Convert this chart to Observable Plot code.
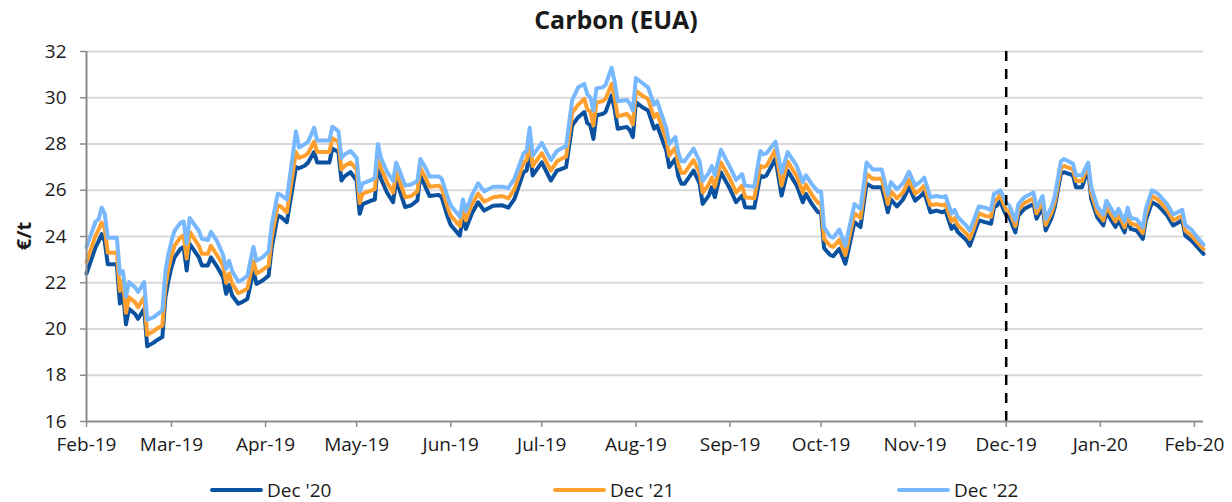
<!DOCTYPE html>
<html>
<head>
<meta charset="utf-8">
<script src="https://cdn.jsdelivr.net/npm/d3@7"></script>
<script src="https://cdn.jsdelivr.net/npm/@observablehq/plot@0.6"></script>
<style>
  html, body { margin: 0; padding: 0; background: #fff; }
  #wrap { position: relative; width: 1232px; height: 502px; font-family: "Open Sans", sans-serif; color: #1a1a1a; }
  #chart { position: absolute; left: 0; top: 25px; }
  #title { position: absolute; left: 0; top: 0; width: 1232px; height: 40px; text-align: center; font-weight: 700; font-size: 25px; line-height: 38px; }
  #ylab { position: absolute; left: 23px; top: 236px; transform: translate(-50%, -50%) rotate(-90deg); font-weight: 700; font-size: 20px; white-space: nowrap; }
  .leg { position: absolute; top: 478px; height: 24px; display: flex; align-items: center; font-size: 19px; }
  .sw { width: 53px; height: 4px; margin-right: 4px; border-radius: 2px; }
</style>
</head>
<body>
<div id="wrap">
  <div id="chart"></div>
  <div id="title">Carbon (EUA)</div>
  <div id="ylab">€/t</div>
  <div id="legend"></div>
</div>
<script>
// ---- data ----
const seriesNames = ["Dec '20", "Dec '21", "Dec '22"];
const seriesColors = ["#0a52a0", "#ffa02e", "#78b8ff"];
const yTicks = [16, 18, 20, 22, 24, 26, 28, 30, 32];
const monthTicks = ["2019-02-01","2019-03-01","2019-04-01","2019-05-01","2019-06-01","2019-07-01","2019-08-01","2019-09-01","2019-10-01","2019-11-01","2019-12-01","2020-01-01","2020-02-01"];
const markerDate = "2019-12-01";
const xDomain = ["2019-02-01", "2020-02-04"];

const dates = [
  "2019-02-01","2019-02-04","2019-02-05","2019-02-06","2019-02-07","2019-02-08","2019-02-11","2019-02-12","2019-02-13","2019-02-14","2019-02-15","2019-02-17","2019-02-18","2019-02-20","2019-02-21","2019-02-23","2019-02-24","2019-02-26","2019-02-27","2019-02-28",
  "2019-03-01","2019-03-02","2019-03-04","2019-03-05","2019-03-06","2019-03-07","2019-03-10","2019-03-11","2019-03-13","2019-03-14","2019-03-16","2019-03-18","2019-03-19","2019-03-20","2019-03-21","2019-03-23","2019-03-24","2019-03-26","2019-03-27","2019-03-28","2019-03-29","2019-03-31",
  "2019-04-02","2019-04-03","2019-04-05","2019-04-06","2019-04-08","2019-04-11","2019-04-12","2019-04-14","2019-04-15","2019-04-17","2019-04-18","2019-04-22","2019-04-23","2019-04-25","2019-04-26","2019-04-27","2019-04-29",
  "2019-05-01","2019-05-02","2019-05-03","2019-05-06","2019-05-07","2019-05-08","2019-05-09","2019-05-11","2019-05-13","2019-05-14","2019-05-15","2019-05-17","2019-05-19","2019-05-21","2019-05-22","2019-05-24","2019-05-25","2019-05-28","2019-05-29","2019-05-31",
  "2019-06-01","2019-06-04","2019-06-05","2019-06-06","2019-06-08","2019-06-10","2019-06-12","2019-06-15","2019-06-18","2019-06-20","2019-06-22","2019-06-25","2019-06-26","2019-06-27","2019-06-28",
  "2019-07-01","2019-07-04","2019-07-06","2019-07-08","2019-07-09","2019-07-11","2019-07-13","2019-07-15","2019-07-16","2019-07-17","2019-07-18","2019-07-19","2019-07-21","2019-07-22","2019-07-24","2019-07-25","2019-07-26","2019-07-29","2019-07-30","2019-07-31",
  "2019-08-01","2019-08-03","2019-08-05","2019-08-07","2019-08-08","2019-08-09","2019-08-11","2019-08-12","2019-08-14","2019-08-15","2019-08-16","2019-08-17","2019-08-20","2019-08-22","2019-08-23","2019-08-25","2019-08-26","2019-08-27","2019-08-29",
  "2019-09-01","2019-09-03","2019-09-05","2019-09-06","2019-09-09","2019-09-11","2019-09-12","2019-09-13","2019-09-16","2019-09-18","2019-09-20","2019-09-23","2019-09-25","2019-09-26","2019-09-28","2019-09-30",
  "2019-10-01","2019-10-02","2019-10-04","2019-10-05","2019-10-07","2019-10-09","2019-10-10","2019-10-12","2019-10-14","2019-10-16","2019-10-18","2019-10-21","2019-10-22","2019-10-23","2019-10-24","2019-10-26","2019-10-28","2019-10-30",
  "2019-11-01","2019-11-03","2019-11-04","2019-11-06","2019-11-08","2019-11-10","2019-11-11","2019-11-13","2019-11-14","2019-11-15","2019-11-18","2019-11-19","2019-11-20","2019-11-22","2019-11-24","2019-11-26","2019-11-27","2019-11-28","2019-11-29","2019-11-30",
  "2019-12-01","2019-12-02","2019-12-04","2019-12-05","2019-12-07","2019-12-10","2019-12-11","2019-12-13","2019-12-14","2019-12-16","2019-12-17","2019-12-19","2019-12-20","2019-12-23","2019-12-24","2019-12-26","2019-12-28","2019-12-29","2019-12-31",
  "2020-01-02","2020-01-03","2020-01-06","2020-01-07","2020-01-09","2020-01-10","2020-01-11","2020-01-13","2020-01-15","2020-01-16","2020-01-18","2020-01-20","2020-01-21","2020-01-23","2020-01-25","2020-01-28","2020-01-29","2020-01-31",
  "2020-02-02","2020-02-04"
];

const dec20 = [
  22.40,23.54,23.80,24.10,23.80,22.80,22.80,21.10,21.60,20.20,20.87,20.65,20.44,20.87,19.25,19.40,19.50,19.65,21.37,22.10,
  22.67,23.10,23.47,23.55,22.53,23.68,23.10,22.75,22.75,23.10,22.70,22.24,21.52,21.90,21.45,21.09,21.15,21.30,21.90,22.53,21.95,22.10,
  22.31,23.50,24.90,24.85,24.62,27.00,26.95,27.07,27.20,27.65,27.20,27.20,27.80,27.65,26.42,26.60,26.78,
  26.42,24.98,25.40,25.56,25.60,27.21,26.50,25.90,25.48,26.42,26.05,25.27,25.35,25.56,26.64,26.05,25.75,25.80,25.70,24.84,
  24.50,24.04,24.83,24.33,25.00,25.48,25.12,25.33,25.35,25.25,25.63,26.78,26.85,27.72,26.64,
  27.21,26.42,26.85,26.95,27.00,28.80,29.16,29.38,28.90,28.80,28.22,29.23,29.30,29.38,30.10,29.50,28.66,28.74,28.60,28.30,
  29.81,29.60,29.45,28.66,28.80,28.44,27.72,27.00,27.36,26.60,26.28,26.28,26.85,26.28,25.41,25.77,26.13,25.70,26.78,
  26.06,25.48,25.77,25.27,25.24,26.64,26.57,26.64,27.36,25.77,26.85,26.20,25.48,25.84,25.40,25.05,
  25.05,23.50,23.20,23.15,23.47,22.82,23.40,24.62,24.41,26.28,26.13,26.13,25.60,25.05,25.60,25.30,25.60,26.13,
  25.55,25.77,25.92,25.05,25.12,25.05,25.12,24.33,24.48,24.20,23.83,23.60,23.97,24.70,24.62,24.55,25.27,25.34,25.56,25.20,
  24.91,24.83,24.18,24.90,25.20,25.41,24.77,25.27,24.26,24.83,25.27,26.71,26.78,26.64,26.13,26.13,26.93,25.63,24.83,
  24.48,25.05,24.41,24.70,24.18,24.77,24.33,24.26,23.90,24.70,25.48,25.34,25.20,24.91,24.48,24.70,24.04,23.83,
  23.54,23.25
];

const dec21 = [
  22.90,24.04,24.30,24.60,24.35,23.30,23.30,21.65,22.10,20.70,21.37,21.15,20.94,21.37,19.75,19.90,20.00,20.15,21.85,22.60,
  23.17,23.60,23.97,24.05,23.05,24.20,23.60,23.25,23.25,23.60,23.20,22.75,22.00,22.40,21.95,21.55,21.60,21.75,22.35,22.95,22.40,22.55,
  22.75,23.95,25.35,25.30,25.05,27.65,27.40,27.50,27.60,28.10,27.65,27.65,28.25,28.10,26.90,27.05,27.20,
  26.90,25.45,25.85,26.00,26.05,27.60,26.95,26.35,25.90,26.80,26.45,25.70,25.75,25.95,26.95,26.45,26.15,26.20,26.10,25.25,
  24.90,24.45,25.20,24.70,25.40,25.85,25.50,25.70,25.75,25.65,26.05,27.20,27.30,28.10,27.05,
  27.60,26.85,27.25,27.40,27.45,29.35,29.70,29.95,29.50,29.40,28.80,29.80,29.85,29.95,30.60,30.00,29.20,29.30,29.15,28.85,
  30.30,30.10,29.95,29.15,29.30,28.95,28.20,27.50,27.85,27.10,26.75,26.75,27.30,26.75,25.90,26.25,26.55,26.15,27.20,
  26.50,25.90,26.20,25.70,25.65,27.05,27.00,27.05,27.75,26.20,27.25,26.60,25.90,26.25,25.80,25.45,
  25.45,23.90,23.60,23.55,23.85,23.20,23.80,25.00,24.80,26.70,26.50,26.50,25.95,25.40,25.95,25.65,25.90,26.45,
  25.85,26.05,26.20,25.35,25.40,25.35,25.40,24.65,24.80,24.50,24.10,23.90,24.25,25.00,24.90,24.85,25.55,25.60,25.80,25.45,
  25.15,25.10,24.45,25.15,25.45,25.65,25.00,25.50,24.50,25.05,25.50,26.95,27.05,26.90,26.40,26.40,27.15,25.90,25.05,
  24.70,25.30,24.65,24.95,24.40,25.00,24.55,24.50,24.15,24.95,25.75,25.60,25.45,25.15,24.70,24.90,24.25,24.05,
  23.75,23.45
];

const dec22 = [
  23.55,24.65,24.75,25.25,25.00,23.95,23.95,22.40,22.50,21.40,22.03,21.80,21.60,22.03,20.40,20.50,20.60,20.80,22.50,23.25,
  23.80,24.25,24.60,24.65,23.70,24.80,24.25,23.90,23.85,24.20,23.80,23.20,22.60,22.95,22.50,22.05,22.10,22.30,22.95,23.55,22.95,23.10,
  23.35,24.50,25.85,25.80,25.60,28.55,27.85,28.00,28.10,28.70,28.15,28.15,28.75,28.55,27.40,27.55,27.70,
  27.40,25.95,26.30,26.45,26.55,28.00,27.40,26.80,26.40,27.20,26.90,26.20,26.25,26.40,27.35,26.90,26.60,26.60,26.50,25.70,
  25.35,24.85,25.60,25.10,25.80,26.30,25.95,26.15,26.15,26.10,26.50,27.60,27.70,28.70,27.50,
  28.05,27.30,27.70,27.85,27.90,29.90,30.45,30.60,30.15,30.00,29.45,30.40,30.45,30.55,31.30,30.70,29.85,29.90,29.75,29.45,
  30.85,30.65,30.45,29.70,29.85,29.45,28.70,28.00,28.30,27.60,27.25,27.25,27.80,27.25,26.40,26.75,27.05,26.65,27.75,
  27.00,26.45,26.70,26.20,26.15,27.70,27.55,27.60,28.10,26.75,27.65,27.05,26.35,26.65,26.25,25.95,
  25.95,24.40,24.00,23.95,24.30,23.60,24.20,25.40,25.20,27.20,26.90,26.90,26.35,25.80,26.35,26.05,26.30,26.80,
  26.20,26.40,26.55,25.70,25.75,25.70,25.75,25.00,25.15,24.85,24.45,24.25,24.60,25.30,25.25,25.15,25.85,25.90,26.00,25.75,
  25.45,25.35,24.70,25.40,25.70,25.90,25.25,25.75,24.75,25.30,25.75,27.25,27.35,27.15,26.65,26.65,27.20,26.15,25.30,
  24.95,25.55,24.90,25.20,24.65,25.25,24.80,24.75,24.40,25.20,26.00,25.85,25.70,25.40,24.95,25.15,24.50,24.30,
  23.95,23.65
];

// ---- build tables ----
const allSeries = [dec20, dec21, dec22];
const rows = [];
allSeries.forEach((vals, k) => {
  vals.forEach((v, i) => rows.push({date: new Date(dates[i]), value: v, series: seriesNames[k]}));
});

const chart = Plot.plot({
  width: 1232,
  height: 445,
  marginTop: 26,
  marginBottom: 49,
  marginLeft: 86,
  marginRight: 29,
  style: {fontFamily: "'Open Sans', sans-serif", fontSize: "19px", color: "#1a1a1a", background: "transparent", overflow: "visible"},
  x: {type: "utc", domain: xDomain.map(d => new Date(d)), label: null},
  y: {domain: [16, 32], label: null},
  color: {domain: seriesNames, range: seriesColors},
  marks: [
    Plot.gridY(yTicks.filter(t => t > 16), {stroke: "#d9d9d9", strokeOpacity: 1, strokeWidth: 2}),
    Plot.lineY(rows, {x: "date", y: "value", stroke: "series", z: "series", strokeWidth: 4, strokeLinejoin: "round", strokeLinecap: "round"}),
    Plot.ruleX([new Date(markerDate)], {y1: 16, y2: 32, stroke: "#000", strokeWidth: 2.5, strokeDasharray: "10,8"}),
    Plot.ruleY([16], {stroke: "#8c8c8c", strokeWidth: 2}),
    Plot.ruleX([new Date(xDomain[0])], {y1: 16, y2: 32, stroke: "#8c8c8c", strokeWidth: 2}),
    Plot.axisY({ticks: yTicks, tickSize: 6, tickPadding: 14, stroke: "#8c8c8c", strokeWidth: 1.5, fill: "#1a1a1a", label: null}),
    Plot.axisX({ticks: monthTicks.map(d => new Date(d)), tickFormat: d3.utcFormat("%b-%y"), tickSize: 6, tickPadding: 10, stroke: "#8c8c8c", strokeWidth: 1.5, fill: "#1a1a1a", label: null})
  ]
});
document.getElementById("chart").appendChild(chart);

// ---- legend ----
const legendX = [210, 553, 897];
const legend = document.getElementById("legend");
seriesNames.forEach((name, i) => {
  const item = document.createElement("div");
  item.className = "leg";
  item.style.left = legendX[i] + "px";
  const sw = document.createElement("div");
  sw.className = "sw";
  sw.style.background = seriesColors[i];
  const tx = document.createElement("span");
  tx.textContent = name;
  item.appendChild(sw);
  item.appendChild(tx);
  legend.appendChild(item);
});
</script>
</body>
</html>
